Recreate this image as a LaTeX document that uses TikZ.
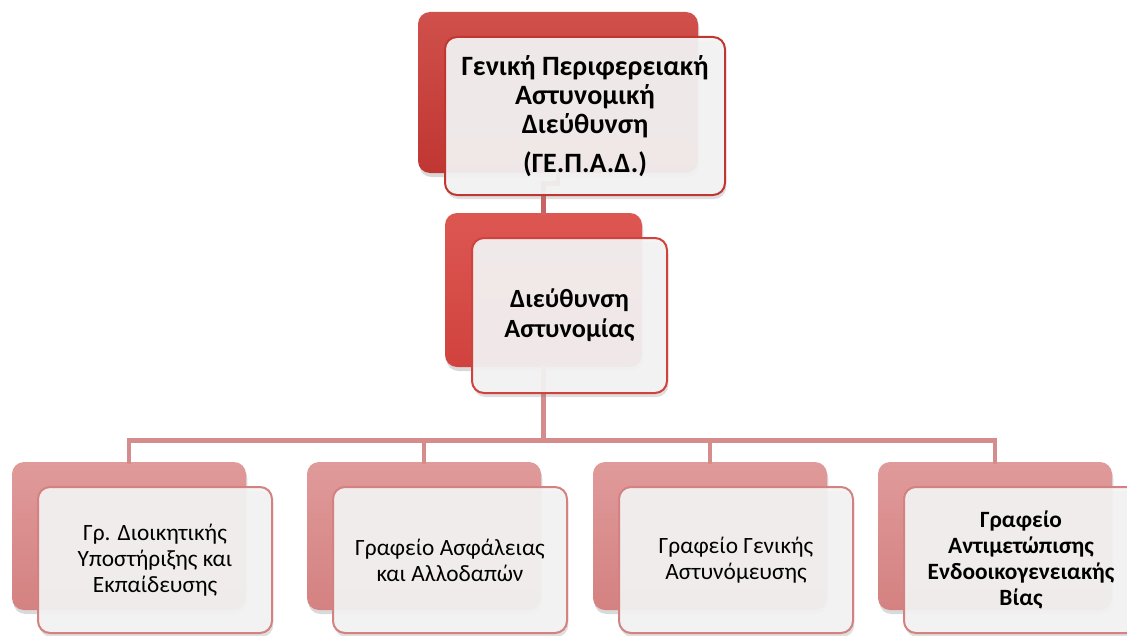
\documentclass[tikz,border=0pt]{standalone}
\usepackage{fontspec}
\setmainfont{Carlito}
\usepackage{tikz}
\usetikzlibrary{shadows}
\definecolor{topred}{HTML}{C03632}
\definecolor{topredlight}{HTML}{D0504B}
\definecolor{midred}{HTML}{D0423E}
\definecolor{midredlight}{HTML}{DD5752}
\definecolor{lowred}{HTML}{D48181}
\definecolor{lowredlight}{HTML}{E09A9A}
\definecolor{frontfill}{HTML}{F4F4F4}
\definecolor{linkred}{HTML}{C86464}
\definecolor{buspink}{HTML}{D48C8C}

\tikzset{
  backbox/.style={rectangle, rounded corners=9pt, draw=none,
    drop shadow={shadow xshift=1pt, shadow yshift=-3pt, opacity=0.3}},
  frontbox/.style={rectangle, rounded corners=9pt, line width=1.5pt,
    fill=frontfill, fill opacity=0.93, text opacity=1, align=center,
    drop shadow={shadow xshift=1pt, shadow yshift=-3pt, opacity=0.25}},
  lowfont/.style={font=\fontsize{17.5pt}{19.5pt}\selectfont},
  link/.style={line width=3.5pt, line cap=rect}
}

\begin{document}
\begin{tikzpicture}[x=0.75pt, y=-0.75pt]
            \useasboundingbox (0,0) rectangle (1127,635);

            % Back boxes
            \node[backbox, top color=topredlight, bottom color=topred,
              minimum width=210pt, minimum height=120.75pt] (gepad-b) at (558,92.5) {};
            \node[backbox, top color=midredlight, bottom color=midred,
              minimum width=147.75pt, minimum height=115.5pt] (da-b) at (543.5,290) {};
            \node[backbox, top color=lowredlight, bottom color=lowred,
              minimum width=175.5pt, minimum height=111pt] (dioik-b) at (129,536) {};
            \node[backbox, top color=lowredlight, bottom color=lowred,
              minimum width=175.5pt, minimum height=111pt] (asfal-b) at (424,536) {};
            \node[backbox, top color=lowredlight, bottom color=lowred,
              minimum width=175.5pt, minimum height=111pt] (genik-b) at (710,536) {};
            \node[backbox, top color=lowredlight, bottom color=lowred,
              minimum width=175.5pt, minimum height=111pt] (via-b) at (995,536) {};

            % Connectors
            \draw[link, linkred] (gepad-b.south) -- ++(0,10) -| (da-b.north);
            \draw[link, buspink] (da-b.south) -- ++(0,73) coordinate (bus);
            \draw[link, buspink] (bus) -| (dioik-b.north);
            \draw[link, buspink] (bus) -| (asfal-b.north);
            \draw[link, buspink] (bus) -| (genik-b.north);
            \draw[link, buspink] (bus) -| (via-b.north);

            % Front boxes with the titles
            \node[frontbox, draw=topred, minimum width=210pt, minimum height=118.5pt,
              font=\fontsize{21pt}{21.75pt}\selectfont\bfseries]
              (gepad) at ([shift={(27,23.5)}]gepad-b) {Γενική Περιφερειακή\\
              Αστυνομική\\ Διεύθυνση\\[8pt] (ΓΕ.Π.Α.Δ.)};
            \node[frontbox, draw=midred, minimum width=146.25pt, minimum height=116.25pt,
              font=\fontsize{19.7pt}{22.5pt}\selectfont\bfseries]
              (da) at ([shift={(26,25.5)}]da-b) {Διεύθυνση\\ Αστυνομίας};
            \node[frontbox, lowfont, draw=lowred, minimum width=175.5pt, minimum height=109.5pt]
              (dioik) at ([shift={(26,24)}]dioik-b) {Γρ. Διοικητικής\\ Υποστήριξης και\\ Εκπαίδευσης};
            \node[frontbox, lowfont, draw=lowred, minimum width=175.5pt, minimum height=109.5pt]
              (asfal) at ([shift={(26,24)}]asfal-b) {Γραφείο Ασφάλειας\\ και Αλλοδαπών};
            \node[frontbox, lowfont, draw=lowred, minimum width=175.5pt, minimum height=109.5pt]
              (genik) at ([shift={(26,24)}]genik-b) {Γραφείο Γενικής\\ Αστυνόμευσης};
            \node[frontbox, lowfont, draw=lowred, minimum width=175.5pt, minimum height=109.5pt]
              (via) at ([shift={(26,24)}]via-b) {\bfseries Γραφείο\\ \bfseries Αντιμετώπισης\\
              \bfseries Ενδοοικογενειακής\\ \bfseries Βίας};
        \end{tikzpicture}
\end{document}
